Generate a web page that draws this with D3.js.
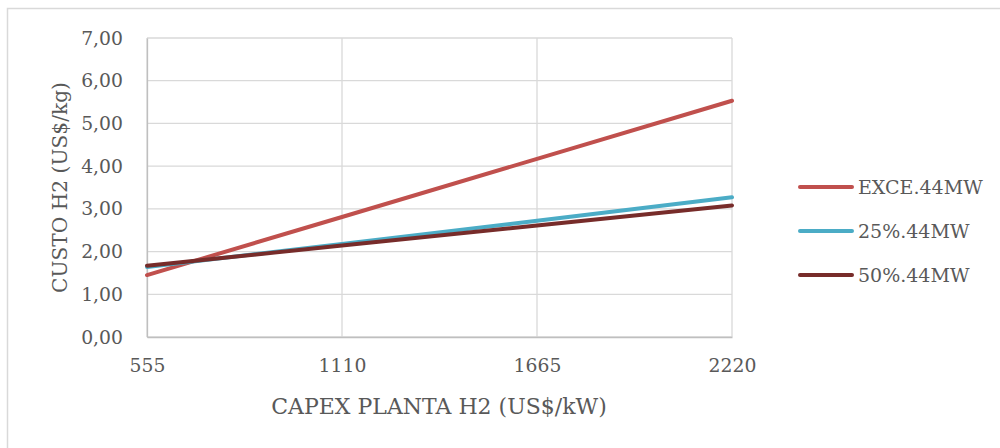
<!DOCTYPE html>
<html>
<head>
<meta charset="utf-8">
<script src="https://cdn.jsdelivr.net/npm/d3@7"></script>
<style>
  html, body { margin: 0; padding: 0; background: #fff; }
  svg text { font-family: "DejaVu Serif", "Liberation Serif", serif; fill: #595959; }
</style>
</head>
<body>
<svg id="chart" width="1000" height="448"></svg>
<script>
// CAPEX categories (US$/kW)
const categories = ["555", "1110", "1665", "2220"];
const yTicks = [0, 1, 2, 3, 4, 5, 6, 7];

// H2 cost series (US$/kg)
const seriesNames = ["EXCE.44MW", "25%.44MW", "50%.44MW"];
const exce44 = [1.45, 2.81, 4.17, 5.53];
const pct25 = [1.64, 2.18, 2.72, 3.27];
const pct50 = [1.67, 2.14, 2.61, 3.08];
const seriesColors = ["#c0504d", "#4bacc6", "#772c2a"];

const series = [
  { name: seriesNames[0], values: exce44, color: seriesColors[0] },
  { name: seriesNames[1], values: pct25, color: seriesColors[1] },
  { name: seriesNames[2], values: pct50, color: seriesColors[2] }
];

const FONT = "DejaVu Serif, Liberation Serif, serif";
const svg = d3.select("#chart");

// outer chart frame
svg.append("rect")
  .attr("x", 7.5).attr("y", 8.5)
  .attr("width", 1000).attr("height", 460)
  .attr("fill", "none").attr("stroke", "#d9d9d9").attr("stroke-width", 1.5);

const plot = { left: 147, right: 732, top: 38, bottom: 337 };

const x = d3.scalePoint().domain(categories).range([plot.left, plot.right]);
const y = d3.scaleLinear().domain([0, 7]).range([plot.bottom, plot.top]);

// horizontal gridlines
svg.append("g").selectAll("line").data(yTicks).join("line")
  .attr("x1", plot.left).attr("x2", plot.right)
  .attr("y1", d => y(d)).attr("y2", d => y(d))
  .attr("stroke", "#d9d9d9").attr("stroke-width", 1.3);

// vertical gridlines
svg.append("g").selectAll("line").data(categories).join("line")
  .attr("x1", d => x(d)).attr("x2", d => x(d))
  .attr("y1", plot.top).attr("y2", plot.bottom)
  .attr("stroke", "#d9d9d9").attr("stroke-width", 1.3);

// y axis
const yAxis = svg.append("g")
  .attr("transform", `translate(${plot.left},0)`)
  .call(d3.axisLeft(y).tickValues(yTicks).tickSize(0).tickPadding(24)
    .tickFormat(d => d3.format(".2f")(d).replace(".", ",")));
yAxis.select(".domain").attr("stroke", "#bfbfbf").attr("stroke-width", 1.3);
yAxis.selectAll("text").attr("font-size", 18.8).attr("fill", "#595959")
  .attr("font-family", FONT);

// x axis
const xAxis = svg.append("g")
  .attr("transform", `translate(0,${plot.bottom})`)
  .call(d3.axisBottom(x).tickSize(0).tickPadding(22));
xAxis.select(".domain").attr("stroke", "#bfbfbf").attr("stroke-width", 1.3);
xAxis.selectAll("text").attr("font-size", 18.8).attr("fill", "#595959")
  .attr("font-family", FONT);

// series lines
const line = d3.line()
  .x((d, i) => x(categories[i]))
  .y(d => y(d));

svg.append("g").selectAll("path").data(series).join("path")
  .attr("d", d => line(d.values))
  .attr("fill", "none")
  .attr("stroke", d => d.color)
  .attr("stroke-width", 4)
  .attr("stroke-linecap", "round");

// axis titles
svg.append("text")
  .attr("x", 439).attr("y", 414)
  .attr("text-anchor", "middle")
  .attr("font-size", 22)
  .text("CAPEX PLANTA H2 (US$/kW)");

svg.append("text")
  .attr("transform", `translate(67,${(plot.top + plot.bottom) / 2}) rotate(-90)`)
  .attr("text-anchor", "middle")
  .attr("font-size", 20.2)
  .text("CUSTO H2 (US$/kg)");

// legend
const legend = svg.append("g").selectAll("g").data(series).join("g")
  .attr("transform", (d, i) => `translate(800,${187 + i * 44})`);
legend.append("line")
  .attr("x1", 0).attr("x2", 52).attr("y1", 0).attr("y2", 0)
  .attr("stroke", d => d.color).attr("stroke-width", 4)
  .attr("stroke-linecap", "round");
legend.append("text")
  .attr("x", 58).attr("y", 7)
  .attr("font-size", 19)
  .text(d => d.name);
</script>
</body>
</html>
